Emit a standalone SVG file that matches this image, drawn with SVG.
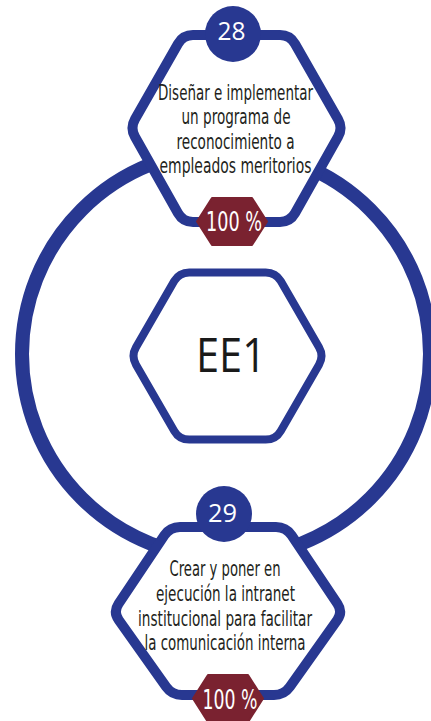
<svg xmlns="http://www.w3.org/2000/svg" width="431" height="721" viewBox="0 0 431 721">
<style>
.ring{fill:none;stroke:#283891;stroke-width:14}
.hex{fill:#ffffff;stroke:#283891;stroke-width:10;stroke-linejoin:round}
.hexc{fill:#ffffff;stroke:#283891;stroke-width:8;stroke-linejoin:round}
.num{fill:#283891}
.badge{fill:#7a2230;stroke:#7a2230;stroke-width:2;stroke-linejoin:round}
.lbl{font-family:"Liberation Sans Narrow","DejaVu Sans Condensed","Liberation Sans",sans-serif;font-size:21px;fill:#231f20;text-anchor:middle}
.numt{font-family:"Open Sans","Liberation Sans",sans-serif;font-size:26px;fill:#ffffff;text-anchor:middle}
.pct{font-family:"Liberation Sans Narrow","DejaVu Sans Condensed","Liberation Sans",sans-serif;font-size:26px;fill:#ffffff;text-anchor:middle}
.ee{font-family:"Open Sans","Liberation Sans",sans-serif;font-size:47px;fill:#1a1a1a;text-anchor:middle}
</style>
<rect width="431" height="721" fill="#ffffff"/>
<g id="connectors">
<circle class="ring" cx="226" cy="354" r="204"/>
</g>
<g id="center-node">
<path class="hexc" d="M136,347.34 L174.25,281.06 Q179.25,272.4 189.25,272.4 L265.75,272.4 Q275.75,272.4 280.75,281.06 L319,347.34 Q324,356 319,364.66 L280.75,430.94 Q275.75,439.6 265.75,439.6 L189.25,439.6 Q179.25,439.6 174.25,430.94 L136,364.66 Q131,356 136,347.34 Z"/>
<text class="ee" x="231" y="372" textLength="70" lengthAdjust="spacingAndGlyphs">EE1</text>
</g>
<g id="node-28">
<path class="hex" d="M134.95,119.31 L178.05,43.69 Q183,35 193,35 L280,35 Q290,35 294.95,43.69 L338.05,119.31 Q343,128 338.05,136.69 L294.95,213.31 Q290,222 280,222 L193,222 Q183,222 178.05,213.31 L134.95,136.69 Q130,128 134.95,119.31 Z"/>
<circle class="num" cx="233" cy="34" r="28"/>
<text class="numt" x="231.5" y="40" textLength="28" lengthAdjust="spacingAndGlyphs">28</text>
<text class="lbl" x="235.5" y="99.5" textLength="155" lengthAdjust="spacingAndGlyphs">Diseñar e implementar</text>
<text class="lbl" x="236" y="124" textLength="109" lengthAdjust="spacingAndGlyphs">un programa de</text>
<text class="lbl" x="235.5" y="148.5" textLength="118" lengthAdjust="spacingAndGlyphs">reconocimiento a</text>
<text class="lbl" x="235.5" y="173" textLength="152" lengthAdjust="spacingAndGlyphs">empleados meritorios</text>
<polygon class="badge" points="197,221.5 212,198 252,198 267,221.5 252,245 212,245"/>
<text class="pct" x="234" y="230.5" textLength="56" lengthAdjust="spacingAndGlyphs">100 %</text>
</g>
<g id="node-29">
<path class="hex" d="M118.57,603.69 L164.43,535.31 Q170,527 180,527 L276,527 Q286,527 291.57,535.31 L337.43,603.69 Q343,612 337.2,620.15 L289.8,686.85 Q284,695 274,695 L182,695 Q172,695 166.2,686.85 L118.8,620.15 Q113,612 118.57,603.69 Z"/>
<circle class="num" cx="224" cy="514" r="28"/>
<text class="numt" x="222.5" y="522" textLength="29" lengthAdjust="spacingAndGlyphs">29</text>
<text class="lbl" x="225" y="576" textLength="111" lengthAdjust="spacingAndGlyphs">Crear y poner en</text>
<text class="lbl" x="225.5" y="601" textLength="139" lengthAdjust="spacingAndGlyphs">ejecución la intranet</text>
<text class="lbl" x="225" y="626" textLength="174" lengthAdjust="spacingAndGlyphs">institucional para facilitar</text>
<text class="lbl" x="225" y="650" textLength="161" lengthAdjust="spacingAndGlyphs">la comunicación interna</text>
<polygon class="badge" points="193,698.5 208,675 248,675 263,698.5 248,722 208,722"/>
<text class="pct" x="230" y="708.5" textLength="55" lengthAdjust="spacingAndGlyphs">100 %</text>
</g>
</svg>
